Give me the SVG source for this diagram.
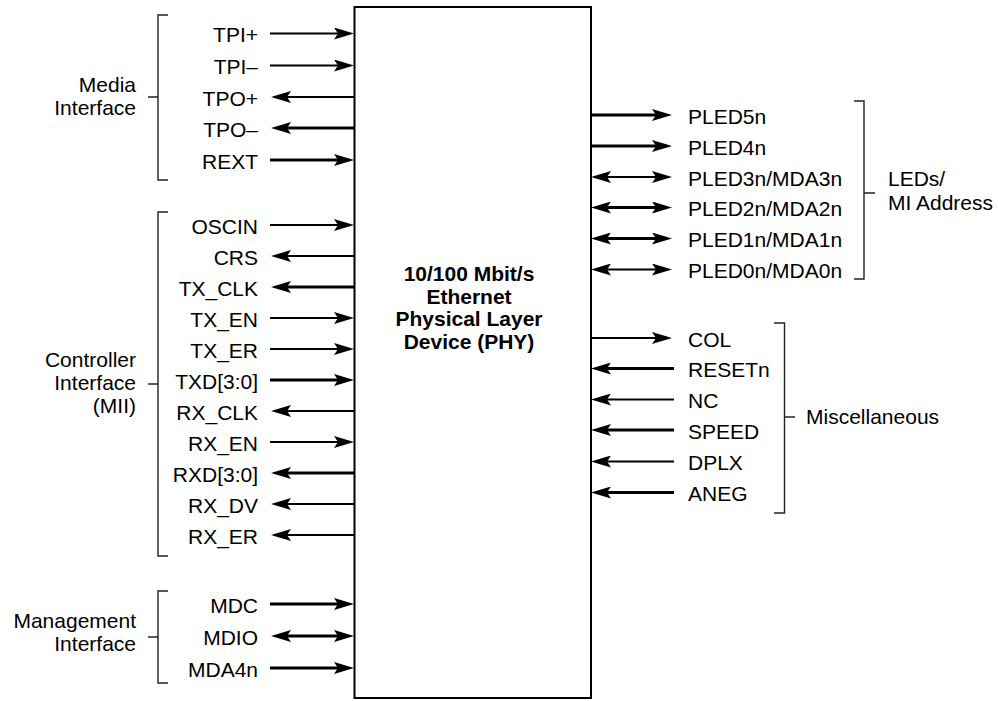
<svg xmlns="http://www.w3.org/2000/svg" width="998" height="701" viewBox="0 0 998 701">
<style>
.lbl{font-family:"Liberation Sans",Arial,sans-serif;font-size:21px;fill:#000}
.r{text-anchor:end}
.title{font-family:"Liberation Sans",Arial,sans-serif;font-size:21px;font-weight:bold;text-anchor:middle;fill:#000}
.thin{stroke:#000;stroke-width:1.8;fill:none}
.thick{stroke:#000;stroke-width:3;fill:none}
.br{stroke:#222;stroke-width:1.4;fill:none}
</style>
<defs>
<marker id="ah" viewBox="0 0 20 12" refX="4" refY="6" markerWidth="20" markerHeight="12" markerUnits="userSpaceOnUse" orient="auto-start-reverse">
<path d="M0,0 L20,6 L0,12 L4,6 Z" fill="#000"/>
</marker>
</defs>
<rect width="998" height="701" fill="#fff"/>

<g id="phy">
<rect x="354.5" y="7" width="236.5" height="691" fill="#fff" stroke="#000" stroke-width="2"/>
<text class="title" x="469" y="281">10/100 Mbit/s</text>
<text class="title" x="469" y="303.5">Ethernet</text>
<text class="title" x="469" y="326">Physical Layer</text>
<text class="title" x="469" y="348.5">Device (PHY)</text>
</g>

<g id="connectors">
<!-- Media -->
<line class="thin" x1="270" y1="33.5" x2="338" y2="33.5" marker-end="url(#ah)"/>
<line class="thin" x1="270" y1="65.5" x2="338" y2="65.5" marker-end="url(#ah)"/>
<line class="thin" x1="354" y1="97" x2="287" y2="97" marker-end="url(#ah)"/>
<line class="thick" x1="354" y1="128" x2="287" y2="128" marker-end="url(#ah)"/>
<line class="thick" x1="270" y1="160" x2="338" y2="160" marker-end="url(#ah)"/>
<!-- Controller -->
<line class="thin" x1="270" y1="225" x2="338" y2="225" marker-end="url(#ah)"/>
<line class="thin" x1="354" y1="256" x2="287" y2="256" marker-end="url(#ah)"/>
<line class="thick" x1="354" y1="287" x2="287" y2="287" marker-end="url(#ah)"/>
<line class="thin" x1="270" y1="318" x2="338" y2="318" marker-end="url(#ah)"/>
<line class="thin" x1="270" y1="349" x2="338" y2="349" marker-end="url(#ah)"/>
<line class="thick" x1="270" y1="380" x2="338" y2="380" marker-end="url(#ah)"/>
<line class="thin" x1="354" y1="411" x2="287" y2="411" marker-end="url(#ah)"/>
<line class="thin" x1="270" y1="442" x2="338" y2="442" marker-end="url(#ah)"/>
<line class="thick" x1="354" y1="473" x2="287" y2="473" marker-end="url(#ah)"/>
<line class="thin" x1="354" y1="504" x2="287" y2="504" marker-end="url(#ah)"/>
<line class="thin" x1="354" y1="535" x2="287" y2="535" marker-end="url(#ah)"/>
<!-- Management -->
<line class="thick" x1="270" y1="604" x2="338" y2="604" marker-end="url(#ah)"/>
<line class="thick" x1="287" y1="636" x2="338" y2="636" marker-start="url(#ah)" marker-end="url(#ah)"/>
<line class="thick" x1="270" y1="668" x2="338" y2="668" marker-end="url(#ah)"/>
<!-- LEDs -->
<line class="thick" x1="591" y1="115" x2="656" y2="115" marker-end="url(#ah)"/>
<line class="thick" x1="591" y1="146" x2="656" y2="146" marker-end="url(#ah)"/>
<line class="thin" x1="607" y1="177" x2="656" y2="177" marker-start="url(#ah)" marker-end="url(#ah)"/>
<line class="thick" x1="607" y1="207.5" x2="656" y2="207.5" marker-start="url(#ah)" marker-end="url(#ah)"/>
<line class="thick" x1="607" y1="238.5" x2="656" y2="238.5" marker-start="url(#ah)" marker-end="url(#ah)"/>
<line class="thin" x1="607" y1="269.5" x2="656" y2="269.5" marker-start="url(#ah)" marker-end="url(#ah)"/>
<!-- Misc -->
<line class="thin" x1="591" y1="338" x2="656" y2="338" marker-end="url(#ah)"/>
<line class="thick" x1="674" y1="368.5" x2="607" y2="368.5" marker-end="url(#ah)"/>
<line class="thin" x1="674" y1="399.5" x2="607" y2="399.5" marker-end="url(#ah)"/>
<line class="thick" x1="674" y1="430" x2="607" y2="430" marker-end="url(#ah)"/>
<line class="thin" x1="674" y1="461.5" x2="607" y2="461.5" marker-end="url(#ah)"/>
<line class="thick" x1="674" y1="492.5" x2="607" y2="492.5" marker-end="url(#ah)"/>
</g>

<g id="media-interface">
<path class="br" d="M168,15 H158 V180 H168 M148,97 H158"/>
<text class="lbl r" x="136" y="92">Media</text>
<text class="lbl r" x="136" y="114.5">Interface</text>
<text class="lbl r" x="258" y="42">TPI+</text>
<text class="lbl r" x="258" y="74">TPI–</text>
<text class="lbl r" x="258" y="105.5">TPO+</text>
<text class="lbl r" x="258" y="136.5">TPO–</text>
<text class="lbl r" x="258" y="168.5">REXT</text>
</g>

<g id="controller-interface">
<path class="br" d="M168,212 H158 V556 H168 M148,384 H158"/>
<text class="lbl r" x="136" y="367">Controller</text>
<text class="lbl r" x="136" y="390">Interface</text>
<text class="lbl r" x="136" y="413">(MII)</text>
<text class="lbl r" x="258" y="233.5">OSCIN</text>
<text class="lbl r" x="258" y="264.5">CRS</text>
<text class="lbl r" x="258" y="295.5">TX_CLK</text>
<text class="lbl r" x="258" y="326.5">TX_EN</text>
<text class="lbl r" x="258" y="357.5">TX_ER</text>
<text class="lbl r" x="258" y="388.5">TXD[3:0]</text>
<text class="lbl r" x="258" y="419.5">RX_CLK</text>
<text class="lbl r" x="258" y="450.5">RX_EN</text>
<text class="lbl r" x="258" y="481.5">RXD[3:0]</text>
<text class="lbl r" x="258" y="512.5">RX_DV</text>
<text class="lbl r" x="258" y="543.5">RX_ER</text>
</g>

<g id="management-interface">
<path class="br" d="M168,591 H158 V683 H168 M148,637 H158"/>
<text class="lbl r" x="136" y="628">Management</text>
<text class="lbl r" x="136" y="651">Interface</text>
<text class="lbl r" x="258" y="612.5">MDC</text>
<text class="lbl r" x="258" y="644.5">MDIO</text>
<text class="lbl r" x="258" y="676.5">MDA4n</text>
</g>

<g id="leds-mi-address">
<path class="br" d="M854,101 H864 V279 H854 M864,193 H875"/>
<text class="lbl" x="888" y="186">LEDs/</text>
<text class="lbl" x="888" y="209.5">MI Address</text>
<text class="lbl" x="688" y="123.5">PLED5n</text>
<text class="lbl" x="688" y="154.5">PLED4n</text>
<text class="lbl" x="688" y="185.5">PLED3n/MDA3n</text>
<text class="lbl" x="688" y="216">PLED2n/MDA2n</text>
<text class="lbl" x="688" y="247">PLED1n/MDA1n</text>
<text class="lbl" x="688" y="278">PLED0n/MDA0n</text>
</g>

<g id="miscellaneous">
<path class="br" d="M774,323 H784.5 V513 H774 M784.5,417 H795"/>
<text class="lbl" x="806" y="424">Miscellaneous</text>
<text class="lbl" x="688" y="346.5">COL</text>
<text class="lbl" x="688" y="377">RESETn</text>
<text class="lbl" x="688" y="408">NC</text>
<text class="lbl" x="688" y="438.5">SPEED</text>
<text class="lbl" x="688" y="470">DPLX</text>
<text class="lbl" x="688" y="501">ANEG</text>
</g>
</svg>
